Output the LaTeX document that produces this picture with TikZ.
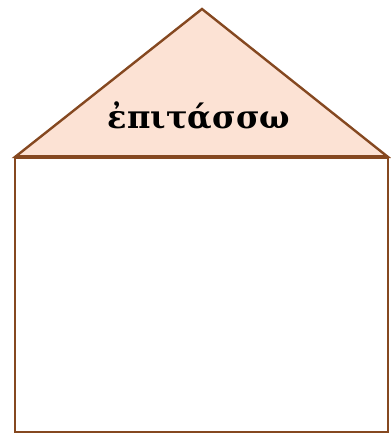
\documentclass[tikz,border=0pt]{standalone}
\usepackage{fontspec}
\newfontfamily\greekfont{DejaVu Serif}
\usetikzlibrary{positioning}
\definecolor{roofbrown}{RGB}{133,72,32}
\definecolor{roofpeach}{RGB}{252,226,212}

\begin{document}
\begin{tikzpicture}[x=1pt, y=-1pt,
  roof/.style={draw=roofbrown, fill=roofpeach, line width=2.4pt, line join=miter},
  wall/.style={draw=roofbrown, line width=2.4pt},
  beam/.style={draw=roofbrown, line width=4.5pt},
  word/.style={font=\greekfont\bfseries\fontsize{32}{38}\selectfont, text=black, inner sep=0pt}]
\useasboundingbox (0,0) rectangle (391,434);
\coordinate (apex) at (202,9);
\coordinate (eaveL) at (15,157);
\coordinate (eaveR) at (388,157);
\coordinate (footL) at (15,432);
\coordinate (footR) at (388,432);
% roof
\draw[roof] (eaveL) -- (apex) -- (eaveR) -- cycle;
\node[word, anchor=base] (verb) at (199,128) {ἐπιτάσσω};
% walls
\draw[wall] (eaveL) -- (footL) -- (footR) -- (eaveR);
\draw[beam] (eaveL) -- (eaveR);
\end{tikzpicture}
\end{document}
